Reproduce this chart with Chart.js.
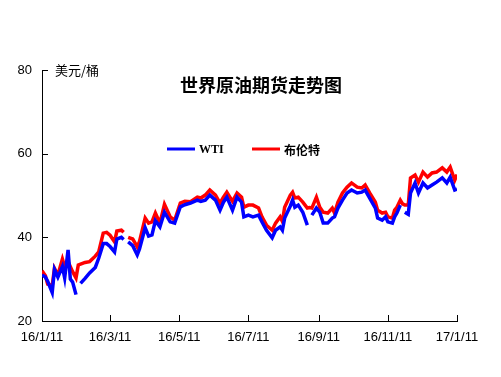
<!DOCTYPE html>
<html>
<head>
<meta charset="utf-8">
<script src="https://cdn.jsdelivr.net/npm/chart.js@4"></script>
<style>
  html, body { margin: 0; padding: 0; background: #fff; }
</style>
</head>
<body>
<canvas id="oilChart" width="501" height="377"></canvas>
<script>
// 日数 (2016/1/11 からの経過日数)
const days = [0,3,5,9,11,14,18,20,23,25,27,30,32,34,38,42,47,50,54,57,60,64,66,70,72,74,76,80,84,86,91,94,97,100,104,108,113,117,122,126,131,137,140,144,148,153,157,160,163,168,172,176,178,182,186,191,194,198,203,206,210,212,214,219,221,223,226,230,234,236,238,242,245,248,252,256,258,261,265,269,273,278,282,285,289,294,296,300,303,305,309,311,313,316,318,320,323,325,329,332,336,340,344,348,353,357,360,364,366];
const wti = [31.0,30.5,29.5,26.8,32.3,30.5,33.0,30.3,37.0,30.0,29.3,26.3,null,29.0,30.2,31.5,32.8,35.0,38.5,38.5,37.8,36.5,39.6,40.0,39.5,null,38.9,38.0,35.8,37.2,42.3,40.3,40.6,44.0,42.5,46.0,43.7,43.4,47.3,47.8,48.2,48.9,48.6,48.9,50.1,48.9,46.5,48.4,49.6,46.5,49.6,48.4,44.9,45.3,44.9,45.3,43.7,41.7,39.9,41.7,42.5,41.7,44.6,47.5,48.9,47.2,47.7,46.0,42.9,null,45.3,47.0,46.0,43.4,43.4,44.6,44.9,47.0,48.9,50.6,51.3,50.6,50.8,51.3,49.4,47.0,44.6,44.1,44.9,43.7,43.4,44.9,45.8,47.7,null,46.0,45.5,50.6,53.0,50.6,53.0,51.8,52.5,53.2,54.2,53.0,54.4,51.3,51.5];
const brent = [32.0,30.8,28.8,28.5,32.6,31.0,34.8,33.0,34.2,33.0,31.8,30.3,33.4,33.6,34.0,34.2,35.5,36.5,41.0,41.2,40.5,38.9,41.5,41.7,41.2,null,40.0,39.6,37.7,39.0,44.6,43.4,43.7,45.8,43.4,47.9,44.9,44.1,48.2,48.6,48.5,49.6,49.4,50.1,51.3,50.1,48.2,49.6,50.8,48.6,50.6,49.6,47.2,47.7,47.7,47.0,44.9,42.9,41.7,43.4,44.9,43.8,47.2,50.1,50.8,49.4,49.6,48.4,47.0,47.1,47.0,49.6,47.2,46.0,45.8,47.0,45.8,48.4,50.6,52.0,53.0,52.0,51.8,52.5,50.6,48.4,46.5,45.8,46.0,44.9,44.6,46.5,47.2,48.9,48.0,47.7,47.7,54.2,54.9,53.2,55.6,54.4,55.4,55.6,56.6,55.6,56.8,53.7,55.0];

// 軸ラベル
const tickDays = [0, 60, 121, 182, 244, 305, 366];
const tickLabels = ['16/1/11', '16/3/11', '16/5/11', '16/7/11', '16/9/11', '16/11/11', '17/1/11'];
const yTicks = [20, 40, 60, 80];

const toPoints = vals => days.map((d, i) => ({ x: d, y: vals[i] }));

// タイトル・凡例・内向きの目盛り
const decorPlugin = {
  id: 'decor',
  afterDraw(chart) {
    const ctx = chart.ctx;
    const xs = chart.scales.x;
    const ys = chart.scales.y;
    const area = chart.chartArea;
    ctx.save();
    ctx.strokeStyle = '#000';
    ctx.lineWidth = 1;
    ctx.beginPath();
    tickDays.forEach(d => {
      const px = Math.round(xs.getPixelForValue(d)) + 0.5;
      ctx.moveTo(px, area.bottom);
      ctx.lineTo(px, area.bottom - 6);
    });
    yTicks.forEach(v => {
      const py = Math.round(ys.getPixelForValue(v)) + 0.5;
      ctx.moveTo(area.left, py);
      ctx.lineTo(area.left + 6, py);
    });
    ctx.stroke();

    ctx.fillStyle = '#000';
    ctx.textBaseline = 'middle';
    ctx.textAlign = 'left';
    ctx.font = '13px "Noto Sans CJK SC"';
    ctx.fillText('美元/桶', 55, 70);

    ctx.textAlign = 'center';
    ctx.font = 'bold 18px "Noto Sans CJK SC"';
    ctx.fillText('世界原油期货走势图', 261, 85);

    const legendItems = [
      { label: 'WTI', color: chart.data.datasets[0].borderColor, x: 167, font: 'bold 12px "Liberation Serif"' },
      { label: '布伦特', color: chart.data.datasets[1].borderColor, x: 252, font: 'bold 12px "Noto Sans CJK SC"' }
    ];
    legendItems.forEach(it => {
      ctx.strokeStyle = it.color;
      ctx.lineWidth = 3;
      ctx.beginPath();
      ctx.moveTo(it.x, 149);
      ctx.lineTo(it.x + 28, 149);
      ctx.stroke();
      ctx.textAlign = 'left';
      ctx.font = it.font;
      ctx.fillStyle = '#000';
      ctx.fillText(it.label, it.x + 32, 150);
    });
    ctx.restore();
  }
};

const ctx = document.getElementById('oilChart').getContext('2d');
const oilChart = new Chart(ctx, {
  type: 'line',
  data: {
    datasets: [{
      label: 'WTI',
      data: toPoints(wti),
      borderColor: '#0000ff',
      borderWidth: 3.5,
      pointRadius: 0,
      fill: false,
      tension: 0
    }, {
      label: '布伦特',
      data: toPoints(brent),
      borderColor: '#ff0000',
      borderWidth: 3.5,
      pointRadius: 0,
      fill: false,
      tension: 0
    }]
  },
  options: {
    responsive: false,
    animation: false,
    devicePixelRatio: 1,
    layout: { padding: { left: 0, top: 70, right: 44, bottom: 0 } },
    plugins: {
      legend: { display: false },
      title: { display: false },
      tooltip: { enabled: false }
    },
    scales: {
      x: {
        type: 'linear',
        min: 0,
        max: 366,
        afterBuildTicks: axis => { axis.ticks = tickDays.map(v => ({ value: v })); },
        afterFit: axis => { axis.height = 56; },
        grid: { display: true, drawOnChartArea: false, drawTicks: false },
        border: { display: true, color: '#000', width: 1 },
        ticks: {
          autoSkip: false,
          maxRotation: 0,
          padding: 9,
          color: '#000',
          font: { family: '"Liberation Sans"', size: 13 },
          callback: v => tickLabels[tickDays.indexOf(v)]
        }
      },
      y: {
        min: 20,
        max: 80,
        afterBuildTicks: axis => { axis.ticks = yTicks.map(v => ({ value: v })); },
        afterFit: axis => { axis.width = 42; },
        grid: { display: true, drawOnChartArea: false, drawTicks: false },
        border: { display: true, color: '#000', width: 1 },
        ticks: {
          padding: 10,
          color: '#000',
          font: { family: '"Liberation Sans"', size: 13 }
        }
      }
    }
  },
  plugins: [decorPlugin]
});
</script>
</body>
</html>
